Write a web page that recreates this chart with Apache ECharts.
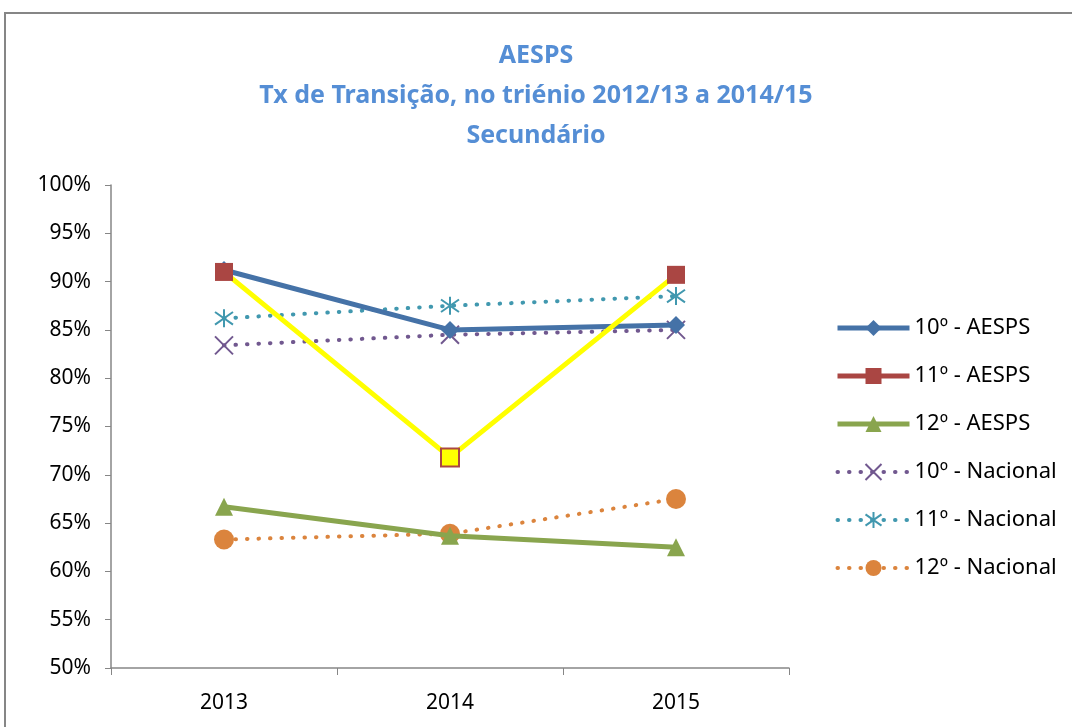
<!DOCTYPE html>
<html>
<head>
<meta charset="utf-8">
<script src="https://cdn.jsdelivr.net/npm/echarts@6/dist/echarts.min.js"></script>
<style>
  html, body { margin: 0; padding: 0; background: #fff; }
  #chart { width: 1072px; height: 727px; }
</style>
</head>
<body>
<div id="chart"></div>
<script>
var years = ['2013', '2014', '2015']
var aesps10 = [91.2, 85.0, 85.5]
var aesps11 = [91.0, 71.8, 90.7]
var aesps12 = [66.7, 63.7, 62.5]
var nac10 = [83.4, 84.5, 85.0]
var nac11 = [86.2, 87.5, 88.5]
var nac12 = [63.3, 63.9, 67.5]

var font = '"Noto Sans", sans-serif'
var dotted = [0.5, 11]

var myChart = echarts.init(document.getElementById('chart'))
var option = {
  animation: false,
  textStyle: { fontFamily: font },
  graphic: [{
    type: 'rect',
    shape: { x: 5, y: 13, width: 1100, height: 800 },
    style: { fill: 'none', stroke: '#868686', lineWidth: 2 },
    silent: true
  }],
  title: {
    text: 'AESPS\nTx de Transição, no triénio 2012/13 a 2014/15\nSecundário',
    left: 'center',
    top: 31,
    textStyle: { color: '#558ED5', fontSize: 25, fontWeight: 'bold', lineHeight: 40, fontFamily: font }
  },
  legend: {
    orient: 'vertical',
    left: 830,
    top: 312,
    itemWidth: 72,
    itemHeight: 20,
    itemGap: 26,
    textStyle: { fontSize: 22, color: '#000', fontFamily: font },
    data: [
      { name: '10º - AESPS', lineStyle: { width: 5 } },
      { name: '11º - AESPS', lineStyle: { color: '#AA4643', width: 5 } },
      { name: '12º - AESPS', lineStyle: { width: 5 } },
      { name: '10º - Nacional', lineStyle: { width: 4 } },
      { name: '11º - Nacional', lineStyle: { width: 4 } },
      { name: '12º - Nacional', lineStyle: { width: 4 } }
    ]
  },
  grid: { left: 111, right: 283, top: 185, bottom: 59 },
  xAxis: {
    type: 'category',
    data: years,
    boundaryGap: true,
    axisLine: { lineStyle: { color: '#868686', width: 1.5 } },
    axisTick: { show: true, length: 7, lineStyle: { color: '#868686' } },
    axisLabel: { color: '#000', fontSize: 21, margin: 25 },
    splitLine: { show: false }
  },
  yAxis: {
    type: 'value',
    min: 50,
    max: 100,
    interval: 5,
    axisLine: { show: true, lineStyle: { color: '#868686', width: 1.5 } },
    axisTick: { show: true, length: 6, lineStyle: { color: '#868686' } },
    axisLabel: { color: '#000', fontSize: 21, formatter: '{value}%', margin: 20 },
    splitLine: { show: false }
  },
  series: [
    {
      name: '10º - AESPS',
      type: 'line',
      data: aesps10,
      symbol: 'diamond',
      symbolSize: 18,
      itemStyle: { color: '#4572A7' },
      lineStyle: { color: '#4572A7', width: 5 },
      z: 5
    },
    {
      name: '11º - AESPS',
      type: 'line',
      data: aesps11.map(function (v, i) {
        if (i === 1) {
          return { value: v, itemStyle: { color: '#FFFF00', borderColor: '#AA4643', borderWidth: 2 } }
        }
        return v
      }),
      symbol: 'rect',
      symbolSize: 18,
      itemStyle: { color: '#AA4643' },
      lineStyle: { color: '#FFFF00', width: 5 },
      z: 6
    },
    {
      name: '12º - AESPS',
      type: 'line',
      data: aesps12,
      symbol: 'triangle',
      symbolSize: 18,
      itemStyle: { color: '#89A54E' },
      lineStyle: { color: '#89A54E', width: 5 },
      z: 4
    },
    {
      name: '10º - Nacional',
      type: 'line',
      data: nac10,
      symbol: 'path://M0,0L10,10M10,0L0,10',
      symbolSize: 18,
      itemStyle: { color: 'none', borderColor: '#71588F', borderWidth: 2 },
      lineStyle: { color: '#71588F', width: 4, type: dotted, cap: 'round' },
      z: 3
    },
    {
      name: '11º - Nacional',
      type: 'line',
      data: nac11,
      symbol: 'path://M5,0L5,10M0,1.5L10,8.5M10,1.5L0,8.5',
      symbolSize: 18,
      itemStyle: { color: 'none', borderColor: '#4198AF', borderWidth: 2 },
      lineStyle: { color: '#4198AF', width: 4, type: dotted, cap: 'round' },
      z: 3
    },
    {
      name: '12º - Nacional',
      type: 'line',
      data: nac12,
      symbol: 'circle',
      symbolSize: 20,
      itemStyle: { color: '#DB843D' },
      lineStyle: { color: '#DB843D', width: 4, type: dotted, cap: 'round' },
      z: 3
    }
  ]
}
myChart.setOption(option)
</script>
</body>
</html>
